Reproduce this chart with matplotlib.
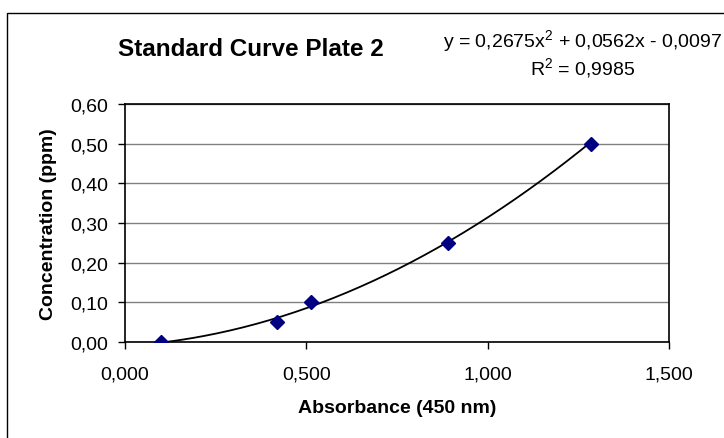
import matplotlib
matplotlib.use("Agg")
import matplotlib.pyplot as plt
from matplotlib.ticker import FuncFormatter
from matplotlib.patches import Rectangle
import numpy as np

absorbance = [0.10, 0.42, 0.513, 0.89, 1.285]
concentration = [0.00, 0.05, 0.10, 0.25, 0.50]
fit_coef = [0.2675, 0.0562, -0.0097]

x_ticks = [0.0, 0.5, 1.0, 1.5]
y_ticks = [0.0, 0.1, 0.2, 0.3, 0.4, 0.5, 0.6]

plt.rcParams['font.family'] = ['Liberation Sans', 'DejaVu Sans']
plt.rcParams['mathtext.fontset'] = 'custom'
plt.rcParams['mathtext.rm'] = 'Liberation Sans'
plt.rcParams['mathtext.it'] = 'Liberation Sans'
plt.rcParams['mathtext.default'] = 'rm'

fig = plt.figure(figsize=(7.24, 4.39), dpi=100)
W, H = 724, 439
ax = fig.add_axes([125 / W, 1 - 343 / H, (669 - 125) / W, (343 - 105) / H])

# chart area border (Excel style), right/bottom edges are off the picture
fig.patches.append(Rectangle((7 / W, -0.1), 1.2, 1 - 14 / H + 0.1, transform=fig.transFigure,
                             fill=False, edgecolor='black', linewidth=1.0))

xs = np.linspace(absorbance[0], absorbance[-1], 200)
ax.plot(xs, np.polyval(fit_coef, xs), color='black', linewidth=1.3, zorder=2)
ax.plot(absorbance, concentration, linestyle='none', marker='D', markersize=7.5,
        color='#000080', zorder=3)

ax.set_xlim(0, 1.5)
ax.set_ylim(0, 0.6)
ax.set_xticks(x_ticks)
ax.set_yticks(y_ticks)
ax.xaxis.set_major_formatter(FuncFormatter(lambda v, p: f"{v:.3f}".replace('.', ',')))
ax.yaxis.set_major_formatter(FuncFormatter(lambda v, p: f"{v:.2f}".replace('.', ',')))
ax.tick_params(axis='both', direction='out', length=5, width=1, labelsize=14, colors='black')
ax.tick_params(axis='x', pad=12)
ax.tick_params(axis='y', pad=7)
ax.grid(axis='y', color='#808080', linewidth=1)
ax.set_axisbelow(True)
for s in ax.spines.values():
    s.set_linewidth(1.2)
    s.set_color('black')

ax.set_xlabel('Absorbance (450 nm)', fontsize=14, fontweight='bold', va='center')
ax.xaxis.set_label_coords(0.5, -0.277)
ax.set_ylabel('Concentration (ppm)', fontsize=14, fontweight='bold', va='center')
ax.yaxis.set_label_coords(-0.14, 0.5)

fig.text(251 / W, 1 - 49 / H, 'Standard Curve Plate 2', fontsize=17.5, fontweight='bold',
         ha='center', va='center')
fig.text(583 / W, 1 - 41 / H, 'y = 0,2675x$^2$ + 0,0562x - 0,0097', fontsize=14,
         ha='center', va='center')
fig.text(583 / W, 1 - 68 / H, 'R$^2$ = 0,9985', fontsize=14, ha='center', va='center')

fig.savefig('out.png', dpi=100)
